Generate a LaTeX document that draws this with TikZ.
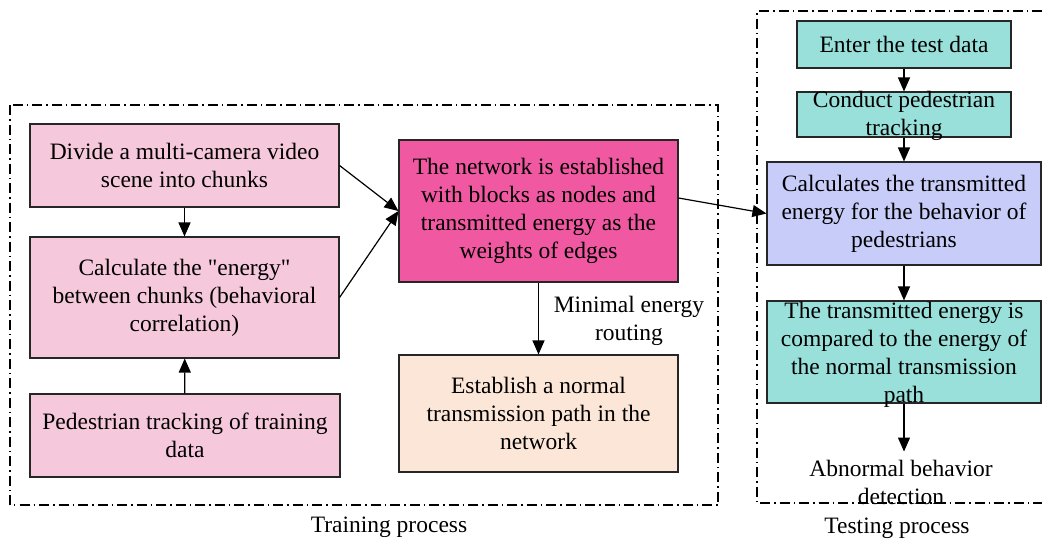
\documentclass[tikz,border=0pt]{standalone}
\usepackage{fontspec}
\setmainfont{Liberation Serif}
\usetikzlibrary{arrows.meta}
\definecolor{pinkL}{HTML}{F5C8DB}
\definecolor{pinkD}{HTML}{F059A2}
\definecolor{peach}{HTML}{FBE6D8}
\definecolor{tealB}{HTML}{99E0DA}
\definecolor{lavB}{HTML}{C8CCF8}
\begin{document}
\begin{tikzpicture}[x=1pt,y=-1pt,
  every node/.style={font=\fontsize{23.5}{28}\selectfont, align=center},
  box/.style={draw=black!85, line width=1.1pt, inner sep=0pt, minimum width=#1},
  frame/.style={line width=1.2pt, dash pattern=on 10pt off 4pt on 1.5pt off 4pt},
  arr/.style={line width=1.2pt, -{Triangle[length=14pt,width=12pt]}},
  txt/.style={inner sep=0pt}
]
\useasboundingbox (0,0) rectangle (1042,544);
% frames
\draw[frame] (10,105) rectangle (718,505);
\draw[frame] (1042,11) -- (757,11) -- (757,503) -- (1042,503);
\node[txt] (trainlbl) at (389,527) {Training process};
\node[txt] (testlbl) at (897,528) {Testing process};
% left column
\node[box=309pt, minimum height=83pt, fill=pinkL] (div) at (184.5,165.5) {Divide a multi-camera video\\scene into chunks};
\node[box=309pt, minimum height=121pt, fill=pinkL] (calc) at (184.5,297.5) {Calculate the \textquotedbl energy\textquotedbl\\between chunks (behavioral\\correlation)};
\node[box=310pt, minimum height=83pt, fill=pinkL] (ped) at (185,435.5) {Pedestrian tracking of training\\data};
% middle
\node[box=279pt, minimum height=142pt, fill=pinkD] (net) at (538.5,211) {The network is established\\with blocks as nodes and\\transmitted energy as the\\weights of edges};
\node[box=279pt, minimum height=117pt, fill=peach] (est) at (538.5,413.5) {Establish a normal\\transmission path in the\\network};
\node[txt] (route) at (629,321) {Minimal energy\\routing};
% right column
\node[box=214pt, minimum height=47pt, fill=tealB] (enter) at (904,44.5) {Enter the test data};
\node[box=214pt, minimum height=45pt, fill=tealB] (cond) at (904,114.5) {};
\node[txt] (condt) at (904,116) {Conduct pedestrian\\tracking};
\node[box=274pt, minimum height=103pt, fill=lavB] (calcs) at (904,213.5) {Calculates the transmitted\\energy for the behavior of\\pedestrians};
\node[box=274pt, minimum height=102pt, fill=tealB] (comp) at (904,352) {};
\node[txt] (compt) at (904,354.5) {The transmitted energy is\\compared to the energy of\\the normal transmission\\path};
\node[txt] (abn) at (901,482) {Abnormal behavior\\detection};
% connectors
\draw[arr] (div) -- (calc);
\draw[arr] (ped) -- (calc);
\draw[arr] (div.east) -- (net.west);
\draw[arr] (calc.east) -- (net.west);
\draw[arr] (net) -- (est);
\draw[arr] ([yshift=13pt]net.east) -- (calcs.west);
\draw[arr] (enter) -- (cond);
\draw[arr] (cond) -- (calcs);
\draw[arr] (calcs) -- (comp);
\draw[arr] (comp.south) -- ([yshift=8pt]abn.north -| comp.south);
\end{tikzpicture}
\end{document}
